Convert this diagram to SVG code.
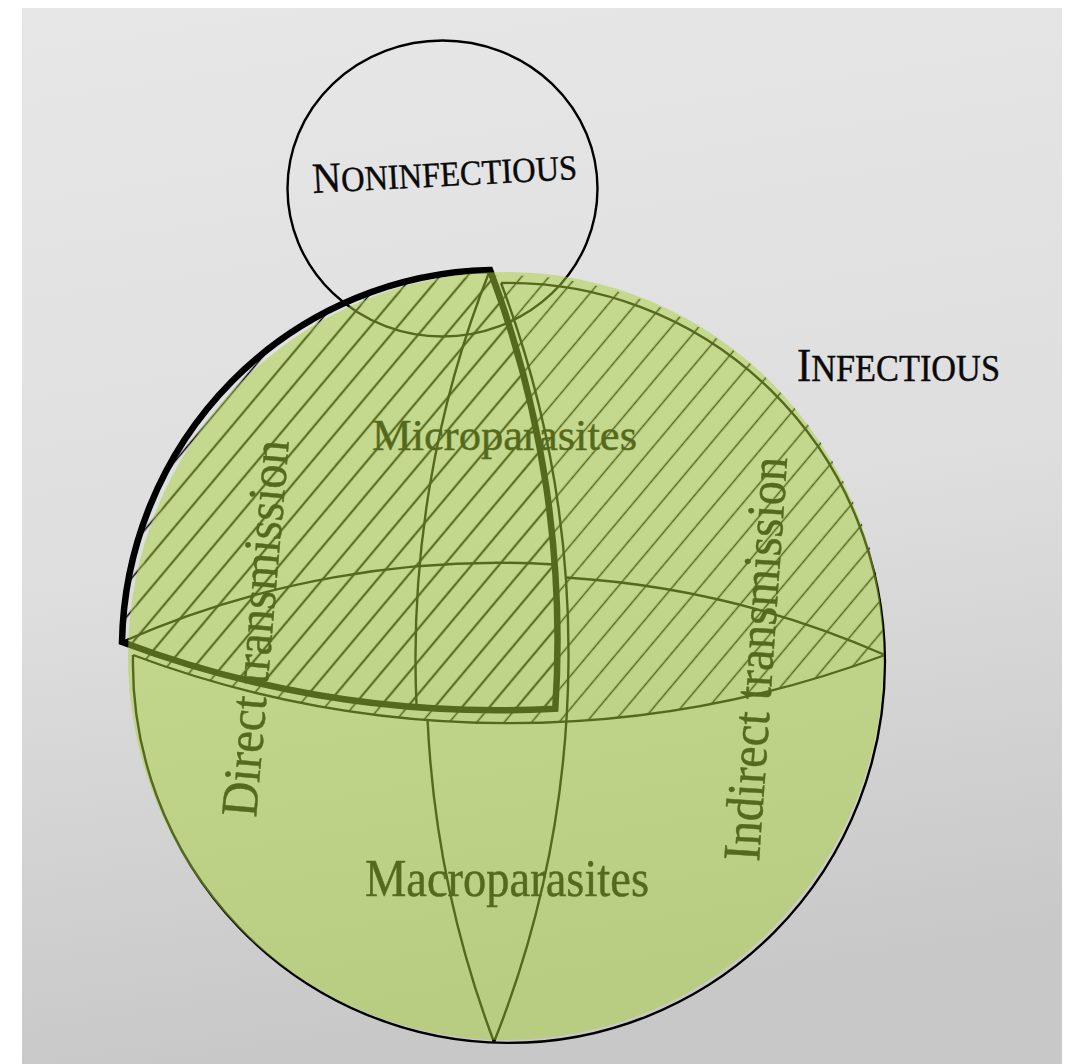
<svg xmlns="http://www.w3.org/2000/svg" width="1075" height="1064" viewBox="0 0 1075 1064">
<defs>
<linearGradient id="bg" x1="0" y1="0" x2="0.15" y2="1">
<stop offset="0" stop-color="#e7e7e7"/>
<stop offset="0.55" stop-color="#dedede"/>
<stop offset="1" stop-color="#c8c8c8"/>
</linearGradient>
<pattern id="hatch" patternUnits="userSpaceOnUse" width="60" height="21" patternTransform="rotate(-50)">
<line x1="-5" y1="10.5" x2="65" y2="10.5" stroke="#000" stroke-width="1.6"/>
</pattern>
</defs>
<style>
.thin{fill:none;stroke:#000;stroke-width:2.4}
.thick{fill:none;stroke:#000;stroke-width:6.5;stroke-linejoin:miter}
.lbl{font-family:"Liberation Serif","Times New Roman",serif;fill:#000;stroke:#000;stroke-width:0.5}
.cap{font-family:"Liberation Serif","Times New Roman",serif;fill:#0a0a0a;stroke:#0a0a0a;stroke-width:0.4}
</style>
<rect width="1075" height="1064" fill="#ffffff"/>
<rect x="22" y="8" width="1040" height="1056" fill="url(#bg)"/>

<g id="sphere">
<g id="hatching">
<path d="M133,655 A376,380 0 0 1 885,655 A1071,1071 0 0 1 133,655 Z" fill="url(#hatch)"/>
<path d="M122,642 A376,380 0 0 1 490,270 A1050,1050 0 0 1 555.3,708.7 A1071,1071 0 0 1 122,642 Z" fill="url(#hatch)"/>
</g>
<g id="sphere-lines">
<path class="thin" d="M501,283 A376,380 0 1 1 133,655"/>
<path class="thin" d="M133,655 A1071,1071 0 0 0 885,655"/>
<path class="thin" d="M565.7,577.5 A932,932 0 0 1 885,655"/>
<path class="thin" d="M501,283 A1050,1050 0 0 1 494,1042"/>
<path class="thin" d="M427.6,720.1 A1050,1050 0 0 0 494,1042"/>
</g>
<g id="cutaway-piece">
<path class="thin" d="M490,270 A1050,1050 0 0 0 416.6,707.1"/>
<path class="thin" d="M122,642 A932,932 0 0 1 554.7,564.5"/>
<path class="thick" d="M122,642 A376,380 0 0 1 490,270 A1050,1050 0 0 1 555.3,708.7 A1071,1071 0 0 1 122,642 Z"/>
</g>
<g id="labels">
<text class="lbl" x="372" y="450" font-size="45" textLength="265" lengthAdjust="spacingAndGlyphs">Microparasites</text>
<text class="lbl" x="365" y="896" font-size="52" textLength="284" lengthAdjust="spacingAndGlyphs">Macroparasites</text>
<text class="lbl" x="256" y="818" font-size="52" textLength="378" lengthAdjust="spacingAndGlyphs" transform="rotate(-85 256 818)">Direct transmission</text>
<text class="lbl" x="759" y="862" font-size="53" textLength="405" lengthAdjust="spacingAndGlyphs" transform="rotate(-86 759 862)">Indirect transmission</text>
</g>
</g>

<g id="noninfectious">
<ellipse class="thin" cx="442.5" cy="188.5" rx="155" ry="148"/>
<text class="cap" x="313" y="193" textLength="265" lengthAdjust="spacingAndGlyphs" transform="rotate(-3 313 193)"><tspan font-size="43">N</tspan><tspan font-size="35">ONINFECTIOUS</tspan></text>
</g>

<g id="highlight">
<ellipse cx="506" cy="656" rx="378" ry="384" fill="#aad23c" fill-opacity="0.5"/>
</g>

<g id="infectious">
<text class="cap" x="797" y="381" textLength="203" lengthAdjust="spacingAndGlyphs"><tspan font-size="46">I</tspan><tspan font-size="37">NFECTIOUS</tspan></text>
</g>

<g id="connectors"/>
</svg>
